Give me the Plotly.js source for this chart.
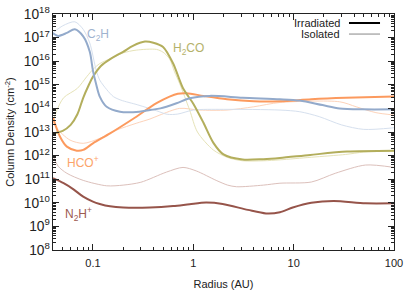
<!DOCTYPE html>
<html><head><meta charset="utf-8">
<script src="https://cdn.plot.ly/plotly-3.0.1.min.js"></script>
<style>html,body{margin:0;padding:0;background:#fff}#chart{width:415px;height:291px}</style>
</head><body><div id="chart"></div>
<script>
// Radius (AU) and column density (cm^-2) for each species, irradiated (thick) and isolated (thin)
var c2hIrrR = [0.04,0.045,0.055,0.066,0.08,0.093,0.1,0.108,0.117,0.137,0.186,0.29,0.37,0.47,0.68,0.92,1.46,3.1,7.3,11.5,19.4,28.7,48.6,100];
var c2hIrrN = [1.51e17,1.17e17,1.58e17,2.24e17,1.12e17,2.51e16,3.98e15,1e15,3.16e14,1.17e14,7.24e13,7.24e13,8.51e13,1e14,1.66e14,2.69e14,3.39e14,2.82e14,2.45e14,2.14e14,1.38e14,1e14,9.12e13,9.12e13];
var c2hIsoR = [0.04,0.05,0.066,0.08,0.093,0.108,0.117,0.137,0.16,0.19,0.28,0.43,0.55,0.7,1.0,2.0,7.3,11.5,18,30,50,100];
var c2hIsoN = [1.58e17,3.16e17,4.68e17,2.24e17,5.89e16,3.98e15,1.58e15,6.31e14,3.16e14,2.24e14,1.41e14,7.94e13,5.62e13,5.75e13,8.51e13,9.12e13,8.51e13,7.24e13,4.47e13,2e13,1.29e13,1.51e13];

var h2coIrrR = [0.04,0.05,0.06,0.07,0.08,0.09,0.1,0.12,0.15,0.2,0.25,0.33,0.4,0.5,0.63,0.79,1.0,1.26,1.58,2.0,3.1,5,7.3,14.6,34,100];
var h2coIrrN = [8.71e12,1.12e13,2e13,5.62e13,2.82e14,8.91e14,2.19e15,6.31e15,1.26e16,2.51e16,4.47e16,6.76e16,6.03e16,3.98e16,7.94e15,7.08e14,1.58e14,2.51e13,3.55e12,1.12e12,6.76e11,7.08e11,7.94e11,1.07e12,1.48e12,1.62e12];
var h2coIsoR = [0.04,0.043,0.051,0.07,0.087,0.1,0.117,0.148,0.2,0.27,0.43,0.5,0.58,0.65,0.73,0.92,1.1,1.58,2.2,3.1,5,7.3,15,33,50,100];
var h2coIsoN = [2.51e13,7.08e13,2.82e14,7.08e14,2.24e15,4.47e15,7.94e15,1.26e16,2.24e16,2.95e16,3.16e16,2.4e16,1.26e16,3.55e15,1.15e15,8.51e13,1e13,1.74e12,8.32e11,6.03e11,6.03e11,6.61e11,8.51e11,1.12e12,1.41e12,1.55e12];

var hcoIrrR = [0.04,0.047,0.055,0.069,0.08,0.1,0.148,0.25,0.43,0.58,0.7,0.86,1.26,2.17,4,7.3,15,33,100];
var hcoIrrN = [3.98e13,6.31e12,2.4e12,1.62e12,1.74e12,3.31e12,8.71e12,3.55e13,1.66e14,3.16e14,4.17e14,4.37e14,3.39e14,2.45e14,2e14,2e14,2.45e14,2.82e14,3.16e14];
var hcoIsoR = [0.04,0.0435,0.059,0.08,0.117,0.172,0.27,0.37,0.465,0.73,1.15,2.17,4,7.3,28.7,42,66,100];
var hcoIsoN = [2.82e13,1.45e13,4.57e12,3.31e12,5.37e12,1.2e13,2.34e13,3.55e13,5.25e13,1e14,8.51e13,8.51e13,1.17e14,1.78e14,1.91e14,1.17e14,6.61e13,5.25e13];

var n2hIrrR = [0.04,0.051,0.064,0.08,0.1,0.117,0.148,0.2,0.37,0.63,0.92,1.34,1.96,3.5,5.3,7.3,9.8,15,25,52,100];
var n2hIrrN = [1.1e11,6.76e10,3.72e10,1.82e10,1.12e10,8.91e9,7.08e9,6.31e9,6.31e9,7.24e9,8.71e9,1.02e10,8.91e9,5.01e9,3.55e9,3.98e9,6.31e9,1e10,1.2e10,9.55e9,9.55e9];
var n2hIsoR = [0.04,0.045,0.055,0.08,0.137,0.2,0.3,0.54,0.79,1.07,1.69,2.2,2.7,5,7.3,15,26,52,100];
var n2hIsoN = [1e12,3.55e11,1.78e11,8.91e10,5.25e10,5.62e10,7.41e10,2e11,3.16e11,2.24e11,8.91e10,5.62e10,4.79e10,5.62e10,6.76e10,7.59e10,1.78e11,3.98e11,3.16e11];

var speciesLabels = ['C<sub>2</sub>H','H<sub>2</sub>CO','HCO<sup>+</sup>','N<sub>2</sub>H<sup>+</sup>'];
var legendLabels = ['Irradiated','Isolated'];

function tr(x,y,color,w){
  return {x:x,y:y,type:'scatter',mode:'lines',line:{color:color,width:w,shape:'spline',smoothing:0.8},showlegend:false,hoverinfo:'skip'};
}
var cBlue='#93aacb', cBlueL='#d6e0ee';
var cOl='#b3ae5c', cOlL='#e6e3b8';
var cOr='#fc9a5e', cOrL='#fdd3ba';
var cBr='#96544a', cBrL='#dcc0bb';

var data = [
  tr(n2hIsoR,n2hIsoN,cBrL,1), tr(hcoIsoR,hcoIsoN,cOrL,1), tr(h2coIsoR,h2coIsoN,cOlL,1), tr(c2hIsoR,c2hIsoN,cBlueL,1),
  tr(n2hIrrR,n2hIrrN,cBr,2), tr(hcoIrrR,hcoIrrN,cOr,2), tr(h2coIrrR,h2coIrrN,cOl,2), tr(c2hIrrR,c2hIrrN,cBlue,2)
];

var ff = 'Liberation Sans, Arial, sans-serif';
var axBase = {type:'log',showgrid:false,zeroline:false,showline:true,linecolor:'#222',linewidth:1,mirror:'allticks',
  ticks:'inside',ticklen:6,tickcolor:'#222',tickwidth:1,
  minor:{ticks:'inside',ticklen:3,tickcolor:'#222',dtick:'D1'},
  tickfont:{family:ff,size:11,color:'#222'}};

function lab(i,x,y,c){
  return {text:speciesLabels[i],xref:'paper',yref:'paper',x:x,y:y,xanchor:'center',yanchor:'middle',showarrow:false,font:{family:ff,size:12,color:c}};
}

var layout = {
  width:415,height:291,margin:{l:53,r:21,t:14,b:41},
  paper_bgcolor:'#fff',plot_bgcolor:'#fff',
  font:{family:ff,size:11,color:'#222'},
  xaxis:Object.assign({},axBase,{range:[Math.log10(0.04),2],dtick:1,tick0:0,ticklabelstandoff:3,
    title:{text:'Radius (AU)',font:{family:ff,size:11,color:'#222'},standoff:12}}),
  yaxis:Object.assign({},axBase,{range:[8,18],dtick:1,exponentformat:'power',showexponent:'all',
    title:{text:'Column Density (cm<sup>-2</sup>)',font:{family:ff,size:11,color:'#222'},standoff:6}}),
  annotations:[
    lab(0,0.132,0.911,'#9fb3cf'),
    lab(1,0.396,0.852,'#b5b26a'),
    lab(2,0.088,0.373,'#fca46a'),
    lab(3,0.076,0.153,'#9c5a50'),
    {text:legendLabels[0],xref:'paper',yref:'paper',x:0.847,y:0.962,xanchor:'right',yanchor:'middle',showarrow:false,font:{family:ff,size:11,color:'#222'}},
    {text:legendLabels[1],xref:'paper',yref:'paper',x:0.847,y:0.915,xanchor:'right',yanchor:'middle',showarrow:false,font:{family:ff,size:11,color:'#222'}}
  ],
  shapes:[
    {type:'line',xref:'paper',yref:'paper',x0:0.868,x1:0.959,y0:0.962,y1:0.962,line:{color:'#000',width:2}},
    {type:'line',xref:'paper',yref:'paper',x0:0.868,x1:0.959,y0:0.915,y1:0.915,line:{color:'#888',width:1}}
  ]
};
Plotly.newPlot('chart',data,layout,{displayModeBar:false,staticPlot:true});
</script></body></html>
